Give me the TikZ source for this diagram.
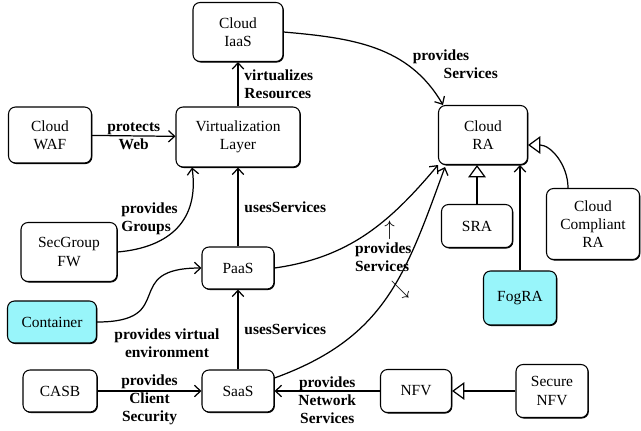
\documentclass[tikz,border=0pt]{standalone}
\usepackage{fontspec}
\setmainfont{Liberation Serif}
\usetikzlibrary{arrows.meta,shadows}
\definecolor{fogcyan}{RGB}{152,245,250}

\begin{document}
\begin{tikzpicture}[x=0.02cm, y=0.02cm, line width=0.6pt,
        font=\fontsize{8.8}{10.3}\selectfont,
        box/.style={draw, fill=white, rounded corners=4pt, align=center, inner sep=1pt,
            drop shadow={shadow xshift=0.5pt, shadow yshift=-0.6pt, opacity=1, fill=black}},
        cyanbox/.style={box, fill=fogcyan},
        lbl/.style={font=\fontsize{8.8}{10.3}\selectfont\bfseries, align=center},
        uses/.style={-{Straight Barb[length=3.5pt,width=6.5pt]}, line width=0.7pt},
        isa/.style={-{Triangle[fill=white, length=7pt, width=10pt]}, line width=0.7pt}]
        \useasboundingbox (0,0) rectangle (641,430);
        \draw (238,398) node[box, minimum width=1.8cm, minimum height=1.18cm] (iaas) {Cloud\\IaaS};
        \draw (50,295)  node[box, minimum width=1.66cm, minimum height=1.12cm] (waf) {Cloud\\WAF};
        \draw (238,293) node[box, minimum width=2.48cm, minimum height=1.2cm] (virt) {Virtualization\\Layer};
        \draw (483,295) node[box, minimum width=1.78cm, minimum height=1.18cm] (ra) {Cloud\\RA};
        \draw (69,178)  node[box, minimum width=1.92cm, minimum height=1.18cm] (secg) {SecGroup\\FW};
        \draw (238,162) node[box, minimum width=1.44cm, minimum height=0.84cm] (paas) {PaaS};
        \draw (52,108)  node[cyanbox, minimum width=1.78cm, minimum height=0.84cm] (cont) {Container};
        \draw (60,39)   node[box, minimum width=1.48cm, minimum height=0.84cm] (casb) {CASB};
        \draw (238,39)  node[box, minimum width=1.44cm, minimum height=0.84cm] (saas) {SaaS};
        \draw (477,204) node[box, minimum width=1.42cm, minimum height=0.86cm] (sra) {SRA};
        \draw (593,206) node[box, minimum width=1.86cm, minimum height=1.42cm] (ccra) {Cloud\\Compliant\\RA};
        \draw (520,132) node[cyanbox, minimum width=1.46cm, minimum height=1.08cm] (fog) {FogRA};
        \draw (416,39)  node[box, minimum width=1.42cm, minimum height=0.86cm] (nfv) {NFV};
        \draw (552,39)  node[box, minimum width=1.44cm, minimum height=1.06cm] (snfv) {Secure\\NFV};
        \draw[uses] (virt) -- (iaas) node[lbl, midway, right, align=left] {virtualizes\\Resources};
        \draw[uses] (waf) -- (virt) node[lbl, midway] {protects\\Web};
        \draw[uses] (iaas.east) to[out=-5, in=120]
              node[lbl, pos=0.7, anchor=west, align=left] {provides\\\hspace*{2em}Services}
              ([xshift=0.1cm]ra.north west);
        \draw[uses] (secg.east) to[out=5, in=-82, looseness=1.2]
              node[lbl, pos=0.6, anchor=east, align=left] {provides\\Groups}
              ([xshift=-0.92cm]virt.south);
        \draw[uses] (paas) -- (virt) node[lbl, midway, right] {usesServices};
        \draw[uses] (saas) -- (paas) node[lbl, midway, right] {usesServices};
        \draw[uses] (cont.east) to[out=0, in=180, looseness=1.8]
              node[lbl, at start, anchor=north west, xshift=0.22cm] {provides virtual\\environment}
              (paas.west);
        \draw[uses] (paas.east) to[out=8, in=-130] (ra.south west);
        \draw[uses] ([yshift=0.26cm]saas.east) to[out=20, in=-110, looseness=1.1]
              node[lbl, pos=0.65, anchor=east, xshift=0.25cm, yshift=0.12cm, align=left]
              {\hspace*{1.9em}{\fontsize{12}{11}\selectfont$\uparrow$}\\provides\\Services\\[3pt]\hspace*{2.3em}{\fontsize{11}{11}\selectfont$\searrow$}}
              ([xshift=0.14cm, yshift=-0.04cm]ra.south west);
        \draw[uses] (casb) -- (saas) node[lbl, midway, yshift=-0.18cm] {provides\\Client\\Security};
        \draw[uses] (nfv) -- (saas) node[lbl, midway, yshift=-0.18cm] {provides\\Network\\Services};
        \draw[isa] (snfv) -- (nfv);
        \draw[isa] (sra) -- (sra |- ra.south);
        \draw[isa] ([xshift=-0.5cm]ccra.north) to[out=90, in=0] ([yshift=-0.2cm]ra.east);
        \draw[uses] (fog) -- (fog |- ra.south);
\end{tikzpicture}
\end{document}
